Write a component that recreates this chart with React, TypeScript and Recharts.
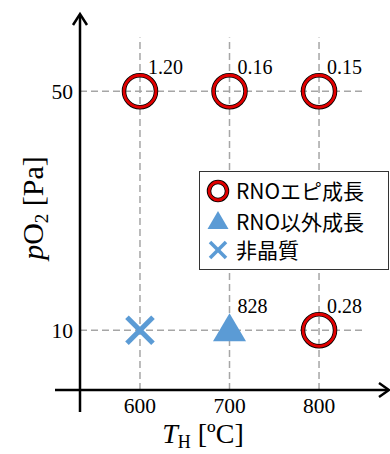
import React from 'react';
import { ScatterChart, Scatter, XAxis, YAxis, ReferenceLine, LabelList } from 'recharts';

// growth temperature [°C] and oxygen partial pressure [Pa]
const epiTemps = [600, 700, 800, 800];
const epiPressures = [50, 50, 50, 10];
const epiValues = ['1.20', '0.16', '0.15', '0.28'];

const otherTemps = [700];
const otherPressures = [10];
const otherValues = ['828'];

const amorphousTemps = [600];
const amorphousPressures = [10];

const xTicks = [600, 700, 800];
const yTicks = [10, 50];

const seriesNames = ['RNOエピ成長', 'RNO以外成長', '非晶質'];

const BLUE = '#5b9bd5';
const SERIF = '"Liberation Serif", "Times New Roman", serif';
const CJK = '"Noto Sans CJK JP", "Noto Sans", sans-serif';

const epiData = epiTemps.map((t, i) => ({ t, p: epiPressures[i], v: epiValues[i] }));
const otherData = otherTemps.map((t, i) => ({ t, p: otherPressures[i], v: otherValues[i] }));
const amorphousData = amorphousTemps.map((t, i) => ({ t, p: amorphousPressures[i] }));

const Ring = ({ cx, cy, r = 16 }: any) => (
  <g>
    <circle cx={cx} cy={cy} r={r} fill="none" stroke="#000" strokeWidth={4.5} />
    <circle cx={cx} cy={cy} r={r} fill="none" stroke="#e00000" strokeWidth={2.8} />
  </g>
);

const Tri = ({ cx, cy, w = 33, h = 28 }: any) => (
  <polygon
    points={`${cx},${cy - h * 0.61} ${cx - w / 2},${cy + h * 0.39} ${cx + w / 2},${cy + h * 0.39}`}
    fill={BLUE}
  />
);

const Cross = ({ cx, cy, s = 13, sw = 5 }: any) => (
  <g stroke={BLUE} strokeWidth={sw}>
    <line x1={cx - s} y1={cy - s} x2={cx + s} y2={cy + s} />
    <line x1={cx - s} y1={cy + s} x2={cx + s} y2={cy - s} />
  </g>
);

const ValueLabel = ({ x, y, width, height, value }: any) => {
  const cx = x + (width || 0) / 2;
  const cy = y + (height || 0) / 2;
  return (
    <text x={cx + 8} y={cy - 17} style={{ fontFamily: SERIF, fontSize: 20 }} fill="#000">
      {value}
    </text>
  );
};

const LegendBox = () => {
  const rows = [20, 51, 79];
  const markers = [
    <Ring cx={19} cy={rows[0]} r={9} />,
    <Tri cx={19} cy={rows[1]} w={21} h={18} />,
    <Cross cx={19} cy={rows[2]} s={8} sw={3.5} />,
  ];
  return (
    <svg width={190} height={99} style={{ position: 'absolute', left: 199, top: 171 }}>
      <rect x={0.5} y={0.5} width={189} height={98} fill="#fff" stroke="#333" strokeWidth={1} />
      {markers.map((m, i) => (
        <g key={i}>{m}</g>
      ))}
      {seriesNames.map((n, i) => (
        <text key={n} x={37} y={rows[i] + 7.5} style={{ fontFamily: CJK, fontSize: 21 }} fill="#000">
          {n}
        </text>
      ))}
    </svg>
  );
};

const gridStyle = { stroke: '#a6a6a6', strokeWidth: 1.5, strokeDasharray: '7 4' };
const tickStyle = { fill: '#000', fontSize: 21.5, fontFamily: SERIF };

export default function App() {
  return (
    <div style={{ position: 'absolute', left: 0, top: 0, width: 390, height: 454, background: '#fff' }}>
      <ScatterChart width={390} height={454} margin={{ top: 37.5, right: 28, bottom: 0, left: 0 }}>
        <XAxis
          type="number"
          dataKey="t"
          domain={[533, 848]}
          ticks={xTicks}
          height={64}
          axisLine={false}
          tickLine={false}
          tickSize={0}
          tickMargin={8}
          tick={tickStyle}
          allowDataOverflow
        />
        <YAxis
          type="number"
          dataKey="p"
          domain={[0, 59]}
          ticks={yTicks}
          width={80}
          axisLine={false}
          tickLine={false}
          tickSize={0}
          tickMargin={7}
          tick={tickStyle}
          allowDataOverflow
        />
        {xTicks.map((v) => (
          <ReferenceLine key={'x' + v} x={v} {...gridStyle} />
        ))}
        {yTicks.map((v) => (
          <ReferenceLine key={'y' + v} y={v} {...gridStyle} />
        ))}
        <Scatter name={seriesNames[0]} data={epiData} shape={(p: any) => <Ring cx={p.cx} cy={p.cy} />} isAnimationActive={false}>
          <LabelList dataKey="v" content={ValueLabel} />
        </Scatter>
        <Scatter name={seriesNames[1]} data={otherData} shape={(p: any) => <Tri cx={p.cx} cy={p.cy} />} isAnimationActive={false}>
          <LabelList dataKey="v" content={ValueLabel} />
        </Scatter>
        <Scatter name={seriesNames[2]} data={amorphousData} shape={(p: any) => <Cross cx={p.cx} cy={p.cy} />} isAnimationActive={false} />
      </ScatterChart>
      <svg width={390} height={454} style={{ position: 'absolute', left: 0, top: 0, pointerEvents: 'none' }}>
        <g stroke="#000" strokeWidth={2.5} fill="none">
          <line x1={80} y1={412} x2={80} y2={15} />
          <polyline points="73,25 80,14 87,25" />
          <line x1={55} y1={390} x2={388} y2={390} />
          <polyline points="379,383 389,390 379,397" />
        </g>
        <text x={203} y={443} textAnchor="middle" style={{ fontFamily: SERIF, fontSize: 28 }} fill="#000">
          <tspan fontStyle="italic">T</tspan>
          <tspan dy={5} style={{ fontSize: 18 }}>H</tspan>
          <tspan dy={-5}> [ºC]</tspan>
        </text>
        <text
          x={43}
          y={208}
          transform="rotate(-90 43 208)"
          textAnchor="middle"
          style={{ fontFamily: SERIF, fontSize: 30 }}
          fill="#000"
        >
          <tspan fontStyle="italic">p</tspan>
          <tspan>O</tspan>
          <tspan dy={5} style={{ fontSize: 19 }}>2</tspan>
          <tspan dy={-5}> [Pa]</tspan>
        </text>
      </svg>
      <LegendBox />
    </div>
  );
}
